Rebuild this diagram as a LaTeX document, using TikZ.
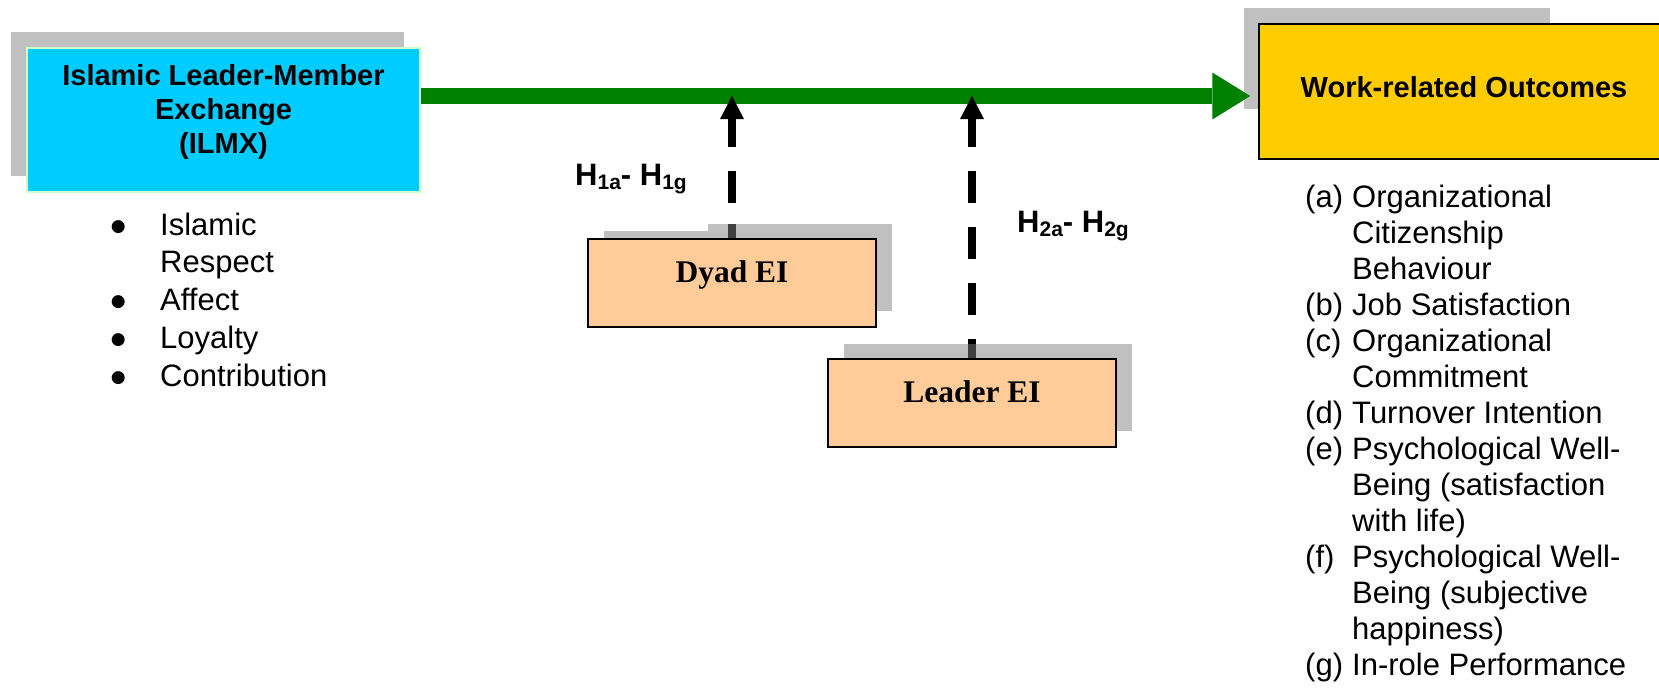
\documentclass[tikz,border=0pt]{standalone}
\usepackage{graphicx}
\usepackage{fontspec}
\setmainfont{Liberation Sans}
\newfontfamily\tnr{Liberation Serif}
\newfontfamily\djv{DejaVu Sans}
\usetikzlibrary{arrows.meta}
\definecolor{ilmxcyan}{HTML}{00CCFF}
\definecolor{ilmxborder}{HTML}{CCFFCC}
\definecolor{workyellow}{HTML}{FFCC00}
\definecolor{peach}{HTML}{FFCC99}
\definecolor{shadowgray}{HTML}{C0C0C0}
\definecolor{darkline}{HTML}{404040}
\definecolor{arrowgreen}{HTML}{008000}
\tikzset{
  peachbox/.style={draw=black, line width=1.5pt, fill=peach, minimum width=288pt,
    inner xsep=0pt, inner ysep=0pt, text height=43pt, text depth=45pt, anchor=base,
    font=\tnr\bfseries\fontsize{31.5}{36}\selectfont},
  dasharrow/.style={line width=8pt, dash pattern=on 32pt off 24pt,
    -{Triangle[length=23pt,width=24pt,line width=0pt]}},
  greenarrow/.style={line width=16pt, draw=arrowgreen,
    -{Triangle[length=38pt,width=47pt,line width=0pt]}, shorten >=8pt},
  hlabel/.style={anchor=base west, inner sep=0pt, font=\bfseries\fontsize{31}{31}\selectfont},
  listtext/.style={anchor=base west, inner sep=0pt}
}
\newcommand{\subtxt}[1]{\raisebox{-4pt}{\fontsize{21}{21}\selectfont #1}}
\newcommand{\blt}{\llap{\makebox[0pt][c]{\raisebox{4pt}{\djv\fontsize{17}{17}\selectfont ●}}\hspace{42pt}}}
\begin{document}
\begin{tikzpicture}[x=1pt,y=-1pt]
\useasboundingbox (0,0) rectangle (1659,694);
% shadows
\fill[shadowgray] (11,32) rectangle (404,176);
\fill[shadowgray] (1244,8) rectangle (1550,109);
\fill[shadowgray] (604,231) rectangle (876,311);
\fill[shadowgray] (708,224) rectangle (892,311);
\fill[shadowgray] (844,344) rectangle (1132,431);
% boxes
\node[draw=ilmxborder, line width=2pt, fill=ilmxcyan, minimum width=393pt,
  inner xsep=0pt, inner ysep=0pt, text height=37pt, text depth=107pt, anchor=base,
  font=\bfseries\fontsize{29}{34}\selectfont] (ilmx) at (223.5,85)
  {\begin{tabular}[t]{@{}c@{}}Islamic Leader-Member\\Exchange\\(ILMX)\end{tabular}};
\node[draw=black, line width=1.5pt, fill=workyellow, minimum width=410pt,
  inner xsep=0pt, inner ysep=0pt, text height=73pt, text depth=62pt, anchor=base,
  font=\bfseries\fontsize{29}{34}\selectfont] (work) at (1464,97) {Work-related Outcomes};
\node[peachbox] (dyad) at (732,282) {Dyad EI};
\node[peachbox] (leader) at (972,402) {Leader EI};
% main arrow
\coordinate (gy) at (0,96);
\draw[greenarrow] (ilmx.east |- gy) -- (work.west |- gy);
% moderator arrows
\coordinate (t1) at (732,96);
\coordinate (t2) at (972,96);
\coordinate (s1) at (732,224);
\coordinate (s2) at (972,344);
\draw[dasharrow, dash phase=21pt] (dyad.north) -- (t1);
\draw[dasharrow, dash phase=13pt] (leader.north) -- (t2);
\draw[darkline, line width=8pt] (dyad.north) -- (s1);
\draw[darkline, line width=8pt] (leader.north) -- (s2);
% hypothesis labels
\node[hlabel] (h1) at (575,185) {H\subtxt{1a}- H\subtxt{1g}};
\node[hlabel] (h2) at (1017,232) {H\subtxt{2a}- H\subtxt{2g}};
% lists
\node[listtext, font=\fontsize{31}{37.75}\selectfont] (ilmxlist) at (160,235)
  {\begin{tabular}[t]{@{}l@{}}\blt Islamic\\Respect\\\blt Affect\\\blt Loyalty\\\blt Contribution\end{tabular}};
\node[listtext, font=\fontsize{31}{36}\selectfont] (worklist) at (1305,207)
  {\begin{tabular}[t]{@{}l@{}}
  \makebox[47pt][l]{(a)}Organizational\\
  \hspace{47pt}Citizenship\\
  \hspace{47pt}Behaviour\\
  \makebox[47pt][l]{(b)}Job Satisfaction\\
  \makebox[47pt][l]{(c)}Organizational\\
  \hspace{47pt}Commitment\\
  \makebox[47pt][l]{(d)}Turnover Intention\\
  \makebox[47pt][l]{(e)}Psychological Well-\\
  \hspace{47pt}Being (satisfaction\\
  \hspace{47pt}with life)\\
  \makebox[47pt][l]{(f)}Psychological Well-\\
  \hspace{47pt}Being (subjective\\
  \hspace{47pt}happiness)\\
  \makebox[47pt][l]{(g)}In-role Performance
  \end{tabular}};
\end{tikzpicture}
\end{document}
